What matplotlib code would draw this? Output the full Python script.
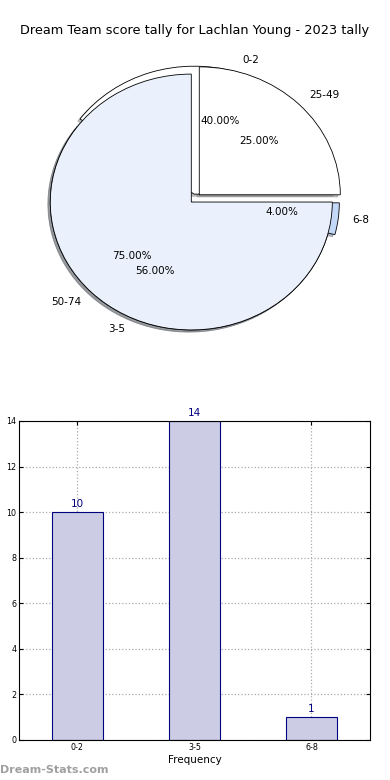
import matplotlib
matplotlib.use("Agg")
import matplotlib.pyplot as plt
import numpy as np

title = "Dream Team score tally for Lachlan Young - 2023 tally"

# outer pie (score ranges)
score_labels = ["25-49", "50-74"]
score_share = [25, 75]
score_explode = [0.08, 0]

# inner pie / bars (frequency buckets)
freq_labels = ["0-2", "3-5", "6-8"]
freq_counts = [10, 14, 1]
freq_explode = [0.065, 0, 0.05]

pie_colors = ["#ffffff", "#eaf1fd", "#c4d8f8"]
shadow_style = dict(ox=-0.012, oy=-0.012, shade=0.5)

fig = plt.figure(figsize=(3.9, 7.8), dpi=100)
fig.text(0.5, 0.961, title, ha="center", va="center", fontsize=9.3)

# pie part
ax1 = fig.add_axes([0.0385, 0.536, 0.904, 0.41])
ax1.pie(freq_counts, labels=freq_labels, explode=freq_explode, colors=pie_colors,
        autopct="%.2f%%", shadow=shadow_style, startangle=0,
        wedgeprops=dict(edgecolor="black", linewidth=0.6),
        textprops=dict(fontsize=7.5))
ax1.pie(score_share, labels=score_labels, explode=score_explode, colors=pie_colors,
        autopct="%.2f%%", shadow=shadow_style, startangle=0,
        wedgeprops=dict(edgecolor="black", linewidth=0.6),
        textprops=dict(fontsize=7.5))
ax1.set_aspect("auto")
ax1.set_xlim(-1.25, 1.25)
ax1.set_ylim(-1.25, 1.25)
ax1.axis("off")

# bar part
ax2 = fig.add_axes([0.0487, 0.0513, 0.9, 0.409])
x = np.arange(len(freq_labels))
ax2.bar(x, freq_counts, width=0.44, color="#ccccE5", edgecolor="#000080", linewidth=0.8, zorder=2)
for xi, v in zip(x, freq_counts):
    ax2.text(xi, v + 0.12, str(v), ha="center", va="bottom", fontsize=7.5, color="#000080")
ax2.set_xlim(-0.5, 2.5)
ax2.set_ylim(0, 14)
ax2.set_xticks(x)
ax2.set_xticklabels(freq_labels)
ax2.set_yticks(range(0, 15, 2))
ax2.tick_params(direction="in", labelsize=5.8, top=True, right=True, length=3, pad=2)
ax2.grid(True, linestyle=":", color="#aaaaaa", linewidth=0.9, zorder=0)
ax2.set_xlabel("Frequency", fontsize=7.5, labelpad=2)
fig.text(-0.008, 0.254, "Score Intervals", rotation=90, ha="center", va="center", fontsize=7)

fig.text(0.0, 0.013, "Dream-Stats.com", ha="left", va="center", fontsize=8,
         color="#a0a0a0", fontweight="bold")

fig.savefig("out.png", dpi=100)
